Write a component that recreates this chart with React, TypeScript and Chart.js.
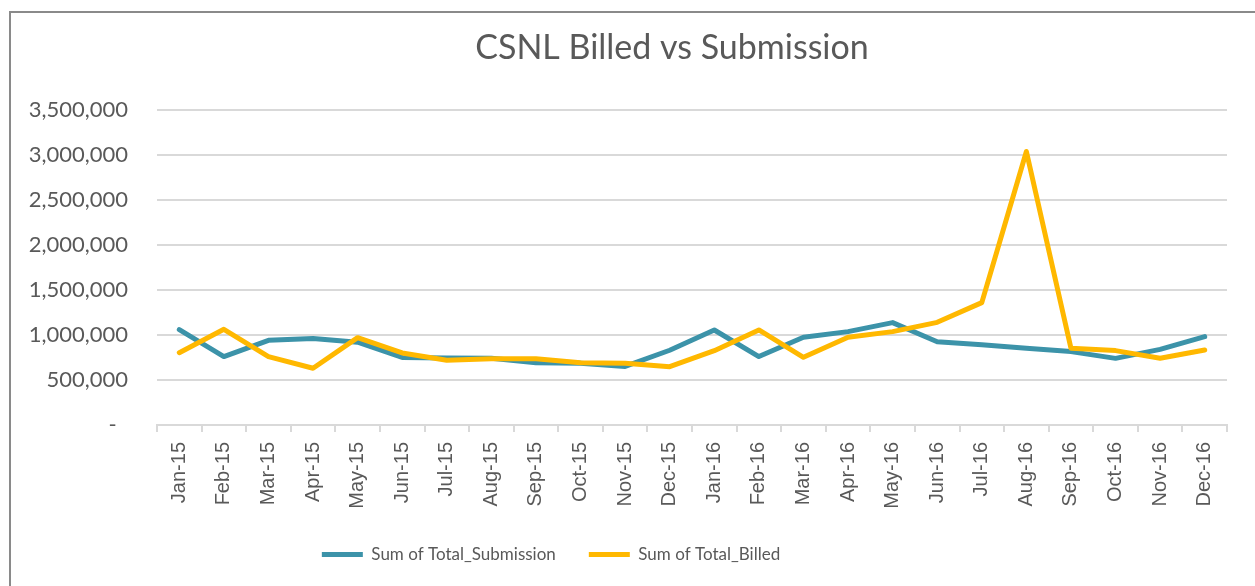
import React, { useEffect, useRef } from "react";
import { Chart, registerables } from "chart.js";

Chart.register(...registerables);

const categories = [
  "Jan-15", "Feb-15", "Mar-15", "Apr-15", "May-15", "Jun-15", "Jul-15", "Aug-15",
  "Sep-15", "Oct-15", "Nov-15", "Dec-15", "Jan-16", "Feb-16", "Mar-16", "Apr-16",
  "May-16", "Jun-16", "Jul-16", "Aug-16", "Sep-16", "Oct-16", "Nov-16", "Dec-16",
];

const submissionValues = [
  1060000, 760000, 940000, 960000, 920000, 750000, 745000, 740000,
  690000, 685000, 650000, 830000, 1055000, 760000, 975000, 1037000,
  1137000, 925000, 890000, 852000, 815000, 740000, 840000, 981000,
];

const billedValues = [
  803000, 1063000, 760000, 630000, 970000, 800000, 720000, 735000,
  735000, 690000, 685000, 648000, 825000, 1055000, 752000, 975000,
  1037000, 1140000, 1359000, 3037000, 852000, 826000, 741000, 833000,
];

const seriesNames = ["Sum of Total_Submission", "Sum of Total_Billed"];
const seriesColors = ["#3C93A9", "#FFB800"];
const chartTitle = "CSNL Billed vs Submission";

const yMax = 3500000;
const yStep = 500000;

const TEXT = "#595959";
const GRID = "#d9d9d9";

const CANVAS_W = 1255;
const CANVAS_H = 620;

export default function App() {
  const ref = useRef<HTMLCanvasElement | null>(null);

  useEffect(() => {
    if (!ref.current) return;
    const blockPos = {
      id: "blockPos",
      afterLayout(chart: any) {
        const t = chart.titleBlock;
        if (t) {
          const dx = 672 - (t.left + t.right) / 2;
          t.left += dx;
          t.right += dx;
        }
        const l = chart.legend;
        if (l) {
          const dx = 551 - (l.left + l.right) / 2;
          l.left += dx;
          l.right += dx;
          const dy = 513 - l.top;
          l.top += dy;
          l.bottom += dy;
        }
      },
    };
    const chart = new Chart(ref.current, {
      type: "line",
      data: {
        labels: categories,
        datasets: [
          {
            label: seriesNames[0],
            data: submissionValues,
            borderColor: seriesColors[0],
            backgroundColor: seriesColors[0],
            borderWidth: 5,
            pointRadius: 0,
            tension: 0,
            borderCapStyle: "round",
            borderJoinStyle: "round",
            order: 1,
          },
          {
            label: seriesNames[1],
            data: billedValues,
            borderColor: seriesColors[1],
            backgroundColor: seriesColors[1],
            borderWidth: 5,
            pointRadius: 0,
            tension: 0,
            borderCapStyle: "round",
            borderJoinStyle: "round",
            order: 0,
          },
        ],
      },
      options: {
        responsive: false,
        animation: false,
        devicePixelRatio: 1,
        layout: { padding: { left: 20, right: 28, top: 0, bottom: 0 } },
        plugins: {
          tooltip: { enabled: false },
          title: {
            display: true,
            text: chartTitle,
            color: TEXT,
            font: { family: "Lato", size: 34, weight: "normal" },
            padding: { top: 28, bottom: 41 },
          },
          legend: {
            display: true,
            position: "bottom",
            labels: {
              usePointStyle: true,
              pointStyle: "line",
              pointStyleWidth: 41,
              color: TEXT,
              font: { family: "Lato", size: 17 },
              padding: 33,
              sort: (a: any, b: any) => a.datasetIndex - b.datasetIndex,
            },
          },
        },
        scales: {
          x: {
            offset: true,
            grid: {
              offset: true,
              drawOnChartArea: false,
              color: GRID,
              lineWidth: 2,
              tickLength: 7,
            },
            border: { display: true, color: GRID, width: 2 },
            ticks: {
              minRotation: 90,
              maxRotation: 90,
              autoSkip: false,
              padding: 10,
              color: TEXT,
              font: { family: "Liberation Sans", size: 20 },
            },
            afterFit: (s: any) => {
              s.height = 135;
            },
          },
          y: {
            min: 0,
            max: yMax,
            grid: { color: GRID, lineWidth: 2, drawTicks: false },
            border: { display: false },
            ticks: {
              stepSize: yStep,
              padding: 29,
              color: TEXT,
              font: { family: "Lato", size: 22 },
              callback: (v: any) => (Number(v) === 0 ? "-  " : Number(v).toLocaleString("en-US")),
            },
            afterFit: (s: any) => {
              s.width = 137;
            },
          },
        },
      },
      plugins: [blockPos],
    });
    return () => chart.destroy();
  }, []);

  return (
    <div>
      <div
        style={{
          position: "fixed",
          left: 9,
          top: 11,
          width: 1400,
          height: 800,
          borderLeft: "2px solid #8a8a8a",
          borderTop: "2px solid #8a8a8a",
          boxSizing: "border-box",
        }}
      />
      <canvas
        ref={ref}
        width={CANVAS_W}
        height={CANVAS_H}
        style={{ position: "fixed", left: 0, top: 0, width: CANVAS_W, height: CANVAS_H, zIndex: 1 }}
      />
    </div>
  );
}
